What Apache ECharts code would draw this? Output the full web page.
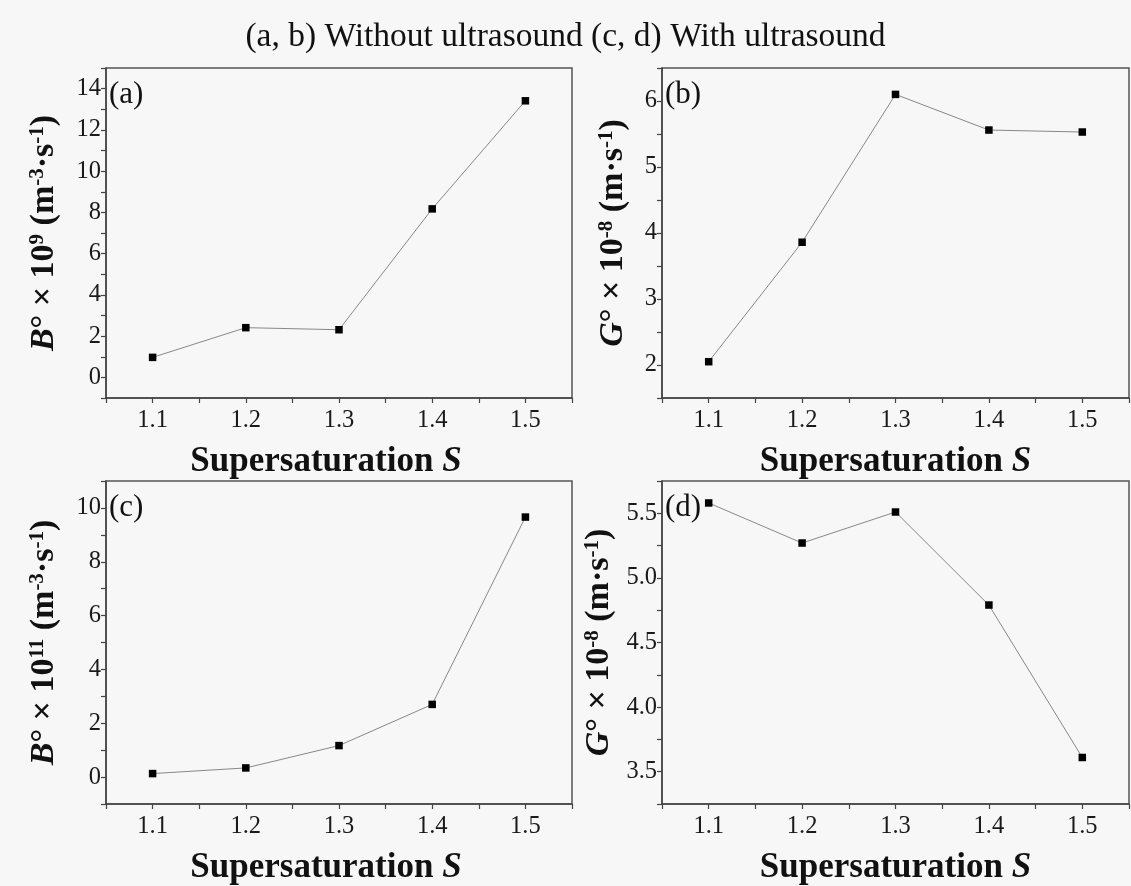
<!DOCTYPE html>
<html>
<head>
<meta charset="utf-8">
<script src="https://cdn.jsdelivr.net/npm/echarts@6/dist/echarts.min.js"></script>
<style>
html,body{margin:0;padding:0;background:#f7f7f7;}
#main{width:1131px;height:886px;}
</style>
</head>
<body>
<div id="main"></div>
<script>
// ---- data ----
const supersaturation = [1.1, 1.2, 1.3, 1.4, 1.5];
const nucleationNoUS = [0.97, 2.41, 2.31, 8.17, 13.41];   // (a) B° x 10^9
const growthNoUS = [2.05, 3.86, 6.10, 5.56, 5.53];        // (b) G° x 10^-8
const nucleationUS = [0.13, 0.34, 1.17, 2.70, 9.66];      // (c) B° x 10^11
const growthUS = [5.58, 5.27, 5.51, 4.79, 3.61];          // (d) G° x 10^-8

const xTickLabels = [1.1, 1.2, 1.3, 1.4, 1.5];
const xTickMarks = [1.05, 1.1, 1.15, 1.2, 1.25, 1.3, 1.35, 1.4, 1.45, 1.5, 1.55];
const aTickLabels = [0, 2, 4, 6, 8, 10, 12, 14];
const aTickMarks = [-1, 0, 1, 2, 3, 4, 5, 6, 7, 8, 9, 10, 11, 12, 13, 14, 15];
const bTickLabels = [2, 3, 4, 5, 6];
const bTickMarks = [1.5, 2, 2.5, 3, 3.5, 4, 4.5, 5, 5.5, 6, 6.5];
const cTickLabels = [0, 2, 4, 6, 8, 10];
const cTickMarks = [-1, 0, 1, 2, 3, 4, 5, 6, 7, 8, 9, 10, 11];
const dTickLabels = [3.5, 4.0, 4.5, 5.0, 5.5];
const dTickMarks = [3.25, 3.5, 3.75, 4.0, 4.25, 4.5, 4.75, 5.0, 5.25, 5.5, 5.75];

const mainTitle = '(a, b) Without ultrasound (c, d) With ultrasound';
const panelLabels = ['(a)', '(b)', '(c)', '(d)'];
const xName = '{b|Supersaturation }{bi|S}';
const yNames = [
  '{bi|B}{b|° × 10}{sup|9}{b| (m}{sup|-3}{b|·s}{sup|-1}{b|)}',
  '{bi|G}{b|° × 10}{sup|-8}{b| (m·s}{sup|-1}{b|)}',
  '{bi|B}{b|° × 10}{sup|11}{b| (m}{sup|-3}{b|·s}{sup|-1}{b|)}',
  '{bi|G}{b|° × 10}{sup|-8}{b| (m·s}{sup|-1}{b|)}'
];

// ---- layout / style ----
const FF = 'Liberation Serif';
const grids = [
  {left: 106, top: 68, width: 466, height: 330},
  {left: 662, top: 68, width: 467, height: 330},
  {left: 106, top: 481, width: 466, height: 330},
  {left: 662, top: 481, width: 467, height: 330}
];
const yRanges = [
  {min: -1, max: 15, labels: aTickLabels, marks: aTickMarks, gap: 45, fmt: v => String(v)},
  {min: 1.5, max: 6.5, labels: bTickLabels, marks: bTickMarks, gap: 32, fmt: v => String(v)},
  {min: -1, max: 11, labels: cTickLabels, marks: cTickMarks, gap: 45, fmt: v => String(v)},
  {min: 3.25, max: 5.75, labels: dTickLabels, marks: dTickMarks, gap: 46, fmt: v => v.toFixed(1)}
];
const xNamePad = [[0, 26, 0, 0], [0, 0, 0, 0], [0, 26, 0, 0], [0, 0, 0, 0]];
const seriesData = [nucleationNoUS, growthNoUS, nucleationUS, growthUS];

const richName = {
  b: {fontFamily: FF, fontWeight: 'bold', fontSize: 34, color: '#111'},
  bi: {fontFamily: FF, fontWeight: 'bold', fontStyle: 'italic', fontSize: 34, color: '#111'},
  sup: {fontFamily: FF, fontWeight: 'bold', fontSize: 21, color: '#111', verticalAlign: 'top'}
};
const richX = {
  b: {fontFamily: FF, fontWeight: 'bold', fontSize: 35, color: '#111'},
  bi: {fontFamily: FF, fontWeight: 'bold', fontStyle: 'italic', fontSize: 35, color: '#111'}
};
const axisLineStyle = {color: '#444', width: 1.5};

const option = {
  backgroundColor: '#f7f7f7',
  animation: false,
  title: [
    {text: mainTitle, left: 'center', top: 15,
     textStyle: {fontFamily: FF, fontWeight: 'normal', fontSize: 33.5, color: '#111'}}
  ].concat(panelLabels.map((t, i) => ({
    text: t, left: grids[i].left - 2, top: grids[i].top + 6,
    textStyle: {fontFamily: FF, fontWeight: 'normal', fontSize: 31, color: '#111'}
  }))),
  grid: grids.map(g => Object.assign({show: true, borderColor: '#555', borderWidth: 1.5,
    backgroundColor: 'transparent', containLabel: false}, g)),
  xAxis: grids.map((g, i) => ({
    type: 'value', gridIndex: i, min: 1.05, max: 1.55,
    name: xName, nameLocation: 'middle', nameGap: 46,
    nameTextStyle: {rich: richX, padding: xNamePad[i]},
    axisLine: {show: true, onZero: false, lineStyle: axisLineStyle},
    axisTick: {show: true, inside: false, length: 5, customValues: xTickMarks, lineStyle: {color: '#444', width: 1.2}},
    axisLabel: {customValues: xTickLabels, formatter: v => v.toFixed(1),
      fontFamily: FF, fontSize: 24.5, color: '#1a1a1a', margin: 10},
    splitLine: {show: false}
  })),
  yAxis: yRanges.map((r, i) => ({
    type: 'value', gridIndex: i, min: r.min, max: r.max,
    name: yNames[i], nameLocation: 'middle', nameRotate: 90, nameGap: r.gap,
    nameTextStyle: {rich: richName},
    axisLine: {show: true, onZero: false, lineStyle: axisLineStyle},
    axisTick: {show: true, inside: false, length: 5, customValues: r.marks, lineStyle: {color: '#444', width: 1.2}},
    axisLabel: {customValues: r.labels, formatter: r.fmt,
      fontFamily: FF, fontSize: 24.5, color: '#1a1a1a', margin: 5},
    splitLine: {show: false}
  })),
  series: seriesData.map((d, i) => ({
    type: 'line', xAxisIndex: i, yAxisIndex: i,
    data: supersaturation.map((s, k) => [s, d[k]]),
    symbol: 'rect', symbolSize: 7.5,
    itemStyle: {color: '#000'},
    lineStyle: {color: '#888', width: 1},
    z: 3
  }))
};

const chart = echarts.init(document.getElementById('main'), null, {renderer: 'canvas'});
chart.setOption(option);
</script>
</body>
</html>
